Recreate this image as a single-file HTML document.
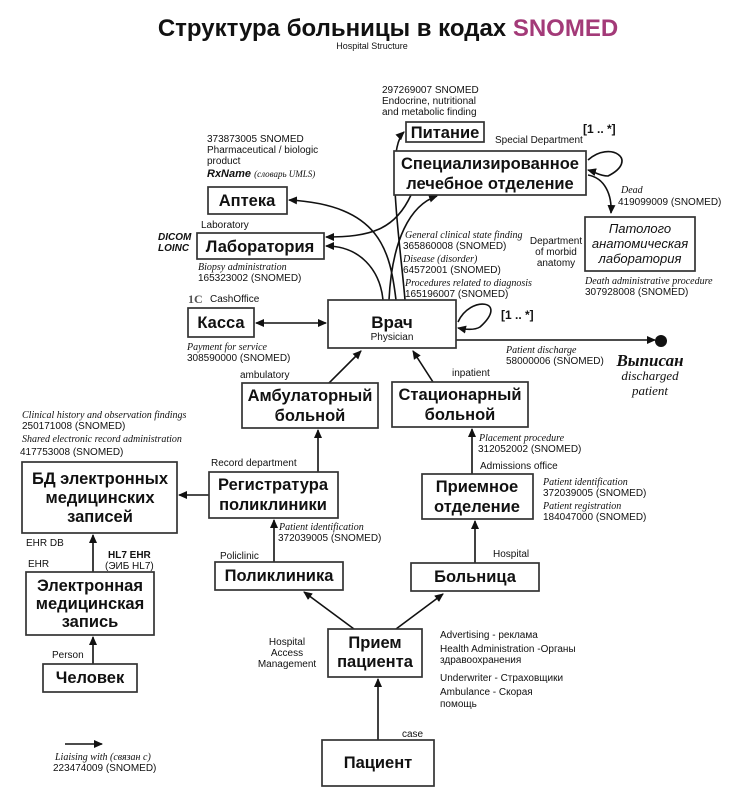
<!DOCTYPE html>
<html><head><meta charset="utf-8"><style>
html,body{margin:0;padding:0;background:#fff}
svg{display:block}
text{font-family:"Liberation Sans",sans-serif;fill:#111}
.b{font-weight:bold;font-size:16.5px}
.s{font-size:10px}
.i{font-family:"Liberation Serif",serif;font-style:italic;font-size:10px}
.bx{fill:#fff;stroke:#333;stroke-width:1.7}
.ln{fill:none;stroke:#111;stroke-width:1.6}
</style></head><body>
<svg width="750" height="809" viewBox="0 0 750 809" xmlns="http://www.w3.org/2000/svg">
<defs><marker id="a" markerWidth="10" markerHeight="10" refX="8" refY="5" orient="auto" markerUnits="userSpaceOnUse"><path d="M0,1 L9,5 L0,9 Z" fill="#111"/></marker>
<marker id="as" markerWidth="10" markerHeight="10" refX="1" refY="5" orient="auto" markerUnits="userSpaceOnUse"><path d="M9,1 L0,5 L9,9 Z" fill="#111"/></marker></defs>

<text x="388" y="36" text-anchor="middle" style="font-size:24px;font-weight:bold">Структура больницы в кодах <tspan style="fill:#a33a78">SNOMED</tspan></text>
<text x="372" y="49" text-anchor="middle" style="font-size:9px">Hospital Structure</text>

<path class="ln" d="M405,300 C400,240 385,150 404,132" marker-end="url(#a)"/>
<path class="ln" d="M396,300 C390,250 380,205 289,200" marker-end="url(#a)"/>
<path class="ln" d="M411,195 C395,230 370,237 326,237" marker-end="url(#a)"/>
<path class="ln" d="M383,300 C380,270 360,246 326,246" marker-end="url(#a)"/>
<path class="ln" d="M389,300 C392,240 410,205 437,196" marker-end="url(#a)"/>
<path class="ln" d="M588,160 C610,140 640,160 608,176 C600,176 595,172 588,170" marker-end="url(#a)"/>
<path class="ln" d="M588,175 C605,178 612,195 611,213" marker-end="url(#a)"/>
<path class="ln" d="M458,322 C470,295 510,300 480,327 C475,330 468,330 458,328" marker-end="url(#a)"/>
<path class="ln" d="M456,340 L655,340" marker-end="url(#a)"/>
<circle cx="661" cy="341" r="6" fill="#111"/>
<path class="ln" d="M256,323 L326,323" marker-start="url(#as)" marker-end="url(#a)"/>
<path class="ln" d="M329,383 L361,351" marker-end="url(#a)"/>
<path class="ln" d="M433,382 L413,351" marker-end="url(#a)"/>
<path class="ln" d="M318,472 L318,430" marker-end="url(#a)"/>
<path class="ln" d="M211,495 L179,495" marker-end="url(#a)"/>
<path class="ln" d="M274,562 L274,520" marker-end="url(#a)"/>
<path class="ln" d="M472,474 L472,429" marker-end="url(#a)"/>
<path class="ln" d="M475,563 L475,521" marker-end="url(#a)"/>
<path class="ln" d="M354,629 L304,592" marker-end="url(#a)"/>
<path class="ln" d="M396,629 L443,594" marker-end="url(#a)"/>
<path class="ln" d="M378,740 L378,679" marker-end="url(#a)"/>
<path class="ln" d="M93,572 L93,535" marker-end="url(#a)"/>
<path class="ln" d="M93,664 L93,637" marker-end="url(#a)"/>
<path class="ln" d="M65,744 L102,744" marker-end="url(#a)"/>

<rect class="bx" x="406" y="122" width="78" height="20"/>
<text class="b" x="445" y="138" text-anchor="middle">Питание</text>
<rect class="bx" x="394" y="151" width="192" height="44"/>
<text class="b" x="490" y="169" text-anchor="middle">Специализированное</text>
<text class="b" x="490" y="189" text-anchor="middle">лечебное отделение</text>
<rect class="bx" x="208" y="187" width="79" height="27"/>
<text class="b" x="247" y="206" text-anchor="middle">Аптека</text>
<rect class="bx" x="197" y="233" width="127" height="26"/>
<text class="b" x="260" y="252" text-anchor="middle">Лаборатория</text>
<rect class="bx" x="585" y="217" width="110" height="54"/>
<text x="640" y="233" text-anchor="middle" style="font-size:13px;font-style:italic">Патолого</text>
<text x="640" y="248" text-anchor="middle" style="font-size:13px;font-style:italic">анатомическая</text>
<text x="640" y="263" text-anchor="middle" style="font-size:13px;font-style:italic">лаборатория</text>
<rect class="bx" x="188" y="308" width="66" height="29"/>
<text class="b" x="221" y="328" text-anchor="middle">Касса</text>
<rect class="bx" x="328" y="300" width="128" height="48"/>
<text class="b" x="392" y="328" text-anchor="middle" style="font-size:17px">Врач</text>
<text x="392" y="340" text-anchor="middle" style="font-size:10px">Physician</text>
<rect class="bx" x="242" y="383" width="136" height="45"/>
<text class="b" x="310" y="401" text-anchor="middle">Амбулаторный</text>
<text class="b" x="310" y="421" text-anchor="middle">больной</text>
<rect class="bx" x="392" y="382" width="136" height="45"/>
<text class="b" x="460" y="400" text-anchor="middle">Стационарный</text>
<text class="b" x="460" y="420" text-anchor="middle">больной</text>
<rect class="bx" x="209" y="472" width="129" height="46"/>
<text class="b" x="273" y="490" text-anchor="middle">Регистратура</text>
<text class="b" x="273" y="510" text-anchor="middle">поликлиники</text>
<rect class="bx" x="422" y="474" width="111" height="45"/>
<text class="b" x="477" y="492" text-anchor="middle">Приемное</text>
<text class="b" x="477" y="512" text-anchor="middle">отделение</text>
<rect class="bx" x="22" y="462" width="155" height="71"/>
<text class="b" x="100" y="484" text-anchor="middle">БД электронных</text>
<text class="b" x="100" y="503" text-anchor="middle">медицинских</text>
<text class="b" x="100" y="522" text-anchor="middle">записей</text>
<rect class="bx" x="215" y="562" width="128" height="28"/>
<text class="b" x="279" y="581" text-anchor="middle">Поликлиника</text>
<rect class="bx" x="411" y="563" width="128" height="28"/>
<text class="b" x="475" y="582" text-anchor="middle">Больница</text>
<rect class="bx" x="26" y="572" width="128" height="63"/>
<text class="b" x="90" y="591" text-anchor="middle">Электронная</text>
<text class="b" x="90" y="609" text-anchor="middle">медицинская</text>
<text class="b" x="90" y="627" text-anchor="middle">запись</text>
<rect class="bx" x="43" y="664" width="94" height="28"/>
<text class="b" x="90" y="683" text-anchor="middle">Человек</text>
<rect class="bx" x="328" y="629" width="94" height="48"/>
<text class="b" x="375" y="648" text-anchor="middle">Прием</text>
<text class="b" x="375" y="667" text-anchor="middle">пациента</text>
<rect class="bx" x="322" y="740" width="112" height="46"/>
<text class="b" x="378" y="768" text-anchor="middle">Пациент</text>

<text class="s" x="382" y="93">297269007 SNOMED</text>
<text class="s" x="382" y="104">Endocrine, nutritional</text>
<text class="s" x="382" y="115">and metabolic finding</text>
<text class="s" x="207" y="142">373873005 SNOMED</text>
<text class="s" x="207" y="153">Pharmaceutical / biologic</text>
<text class="s" x="207" y="164">product</text>
<text x="207" y="177" style="font-size:11px;font-weight:bold;font-style:italic">RxName <tspan class="i" style="font-weight:normal;font-size:9px">(словарь UMLS)</tspan></text>
<text class="s" x="495" y="143">Special Department</text>
<text x="583" y="133" style="font-size:12px;font-weight:bold">[1 .. *]</text>
<text class="i" x="621" y="193">Dead</text>
<text class="s" x="618" y="205">419099009 (SNOMED)</text>
<text class="s" x="201" y="228">Laboratory</text>
<text x="158" y="240" style="font-size:10px;font-weight:bold;font-style:italic">DICOM</text>
<text x="158" y="251" style="font-size:10px;font-weight:bold;font-style:italic">LOINC</text>
<text class="i" x="405" y="238">General clinical state finding</text>
<text class="s" x="403" y="249">365860008 (SNOMED)</text>
<text class="i" x="403" y="262">Disease (disorder)</text>
<text class="s" x="403" y="273">64572001 (SNOMED)</text>
<text class="i" x="405" y="286">Procedures related to diagnosis</text>
<text class="s" x="405" y="297">165196007 (SNOMED)</text>
<text class="s" x="556" y="244" text-anchor="middle">Department</text>
<text class="s" x="556" y="255" text-anchor="middle">of morbid</text>
<text class="s" x="556" y="266" text-anchor="middle">anatomy</text>
<text class="i" x="585" y="284">Death administrative procedure</text>
<text class="s" x="585" y="295">307928008 (SNOMED)</text>
<text class="i" x="198" y="270">Biopsy administration</text>
<text class="s" x="198" y="281">165323002 (SNOMED)</text>
<text x="188" y="303" style="font-family:'Liberation Serif',serif;font-size:12px;font-weight:bold;fill:#555">1C</text>
<text class="s" x="210" y="302">CashOffice</text>
<text class="i" x="187" y="350">Payment for service</text>
<text class="s" x="187" y="361">308590000 (SNOMED)</text>
<text x="501" y="319" style="font-size:12px;font-weight:bold">[1 .. *]</text>
<text class="i" x="506" y="353">Patient discharge</text>
<text class="s" x="506" y="364">58000006 (SNOMED)</text>
<text x="650" y="366" text-anchor="middle" style="font-family:'Liberation Serif',serif;font-size:17px;font-weight:bold;font-style:italic">Выписан</text>
<text x="650" y="380" text-anchor="middle" style="font-family:'Liberation Serif',serif;font-size:13px;font-style:italic">discharged</text>
<text x="650" y="395" text-anchor="middle" style="font-family:'Liberation Serif',serif;font-size:13px;font-style:italic">patient</text>
<text class="s" x="240" y="378">ambulatory</text>
<text class="s" x="452" y="376">inpatient</text>
<text class="i" x="22" y="418">Clinical history and observation findings</text>
<text class="s" x="22" y="429">250171008 (SNOMED)</text>
<text class="i" x="22" y="442">Shared electronic record administration</text>
<text class="s" x="20" y="455">417753008 (SNOMED)</text>
<text class="s" x="211" y="466">Record department</text>
<text class="i" x="479" y="441">Placement procedure</text>
<text class="s" x="478" y="452">312052002 (SNOMED)</text>
<text class="s" x="480" y="469">Admissions office</text>
<text class="i" x="543" y="485">Patient identification</text>
<text class="s" x="543" y="496">372039005 (SNOMED)</text>
<text class="i" x="543" y="509">Patient registration</text>
<text class="s" x="543" y="520">184047000 (SNOMED)</text>
<text class="i" x="279" y="530">Patient identification</text>
<text class="s" x="278" y="541">372039005 (SNOMED)</text>
<text class="s" x="26" y="546">EHR DB</text>
<text class="s" x="28" y="567">EHR</text>
<text x="108" y="558" style="font-size:10px;font-weight:bold">HL7 EHR</text>
<text class="s" x="105" y="569">(ЭИБ HL7)</text>
<text class="s" x="220" y="559">Policlinic</text>
<text class="s" x="493" y="557">Hospital</text>
<text class="s" x="52" y="658">Person</text>
<text class="s" x="287" y="645" text-anchor="middle">Hospital</text>
<text class="s" x="287" y="656" text-anchor="middle">Access</text>
<text class="s" x="287" y="667" text-anchor="middle">Management</text>
<text class="s" x="440" y="638">Advertising - реклама</text>
<text class="s" x="440" y="652">Health Administration -Органы</text>
<text class="s" x="440" y="663">здравоохранения</text>
<text class="s" x="440" y="681">Underwriter - Страховщики</text>
<text class="s" x="440" y="695">Ambulance - Скорая</text>
<text class="s" x="440" y="707">помощь</text>
<text class="s" x="402" y="737">case</text>
<text class="i" x="55" y="760">Liaising with (связан с)</text>
<text class="s" x="53" y="771">223474009 (SNOMED)</text>
</svg>
</body></html>
